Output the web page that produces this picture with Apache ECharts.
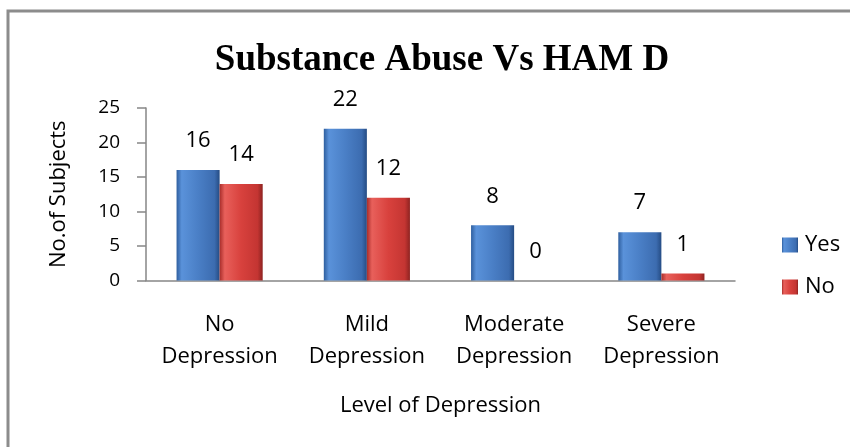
<!DOCTYPE html>
<html>
<head>
<meta charset="utf-8">
<script src="https://cdn.jsdelivr.net/npm/echarts@6/dist/echarts.min.js"></script>
<style>
html,body{margin:0;padding:0;background:#fff;}
#chart{width:850px;height:447px;}
</style>
</head>
<body>
<div id="chart"></div>
<script>
const categories = ['No\nDepression', 'Mild\nDepression', 'Moderate\nDepression', 'Severe\nDepression'];
const yesValues = [16, 22, 8, 7];
const noValues = [14, 12, 0, 1];
const seriesNames = ['Yes', 'No'];
const titleText = 'Substance Abuse Vs HAM D';
const xAxisTitle = 'Level of Depression';
const yAxisTitle = 'No.of Subjects';

const FONT = '"Open Sans", "Noto Sans", sans-serif';

const blueGrad = new echarts.graphic.LinearGradient(0, 0, 1, 0, [
  {offset: 0, color: '#2f5f9f'},
  {offset: 0.12, color: '#5a92da'},
  {offset: 0.5, color: '#4a7fc6'},
  {offset: 0.88, color: '#3c6cb0'},
  {offset: 1, color: '#254c84'}
]);
const redGrad = new echarts.graphic.LinearGradient(0, 0, 1, 0, [
  {offset: 0, color: '#a82d2a'},
  {offset: 0.12, color: '#e8605b'},
  {offset: 0.5, color: '#d8413d'},
  {offset: 0.88, color: '#c43532'},
  {offset: 1, color: '#8e2321'}
]);

const chart = echarts.init(document.getElementById('chart'), null, {renderer: 'canvas'});
const labelCfg = {
  show: true, position: 'top', distance: 18,
  color: '#000', fontFamily: FONT, fontSize: 22
};
chart.setOption({
  animation: false,
  backgroundColor: '#fff',
  graphic: [{
    type: 'rect', shape: {x: 8, y: 11, width: 900, height: 500},
    style: {fill: 'none', stroke: '#8c8c8c', lineWidth: 3}, silent: true, z: -1
  }],
  title: {
    text: titleText, left: 437, top: 37, textAlign: 'center',
    textStyle: {fontFamily: '"Liberation Serif", "Times New Roman", serif', fontWeight: 'bold', fontSize: 37, color: '#000'}
  },
  legend: {
    orient: 'vertical', left: 777, top: 229, itemWidth: 16, itemHeight: 15, itemGap: 20,
    icon: 'rect',
    textStyle: {fontFamily: FONT, fontSize: 22, color: '#000', padding: [0,0,0,2]},
    data: seriesNames
  },
  grid: {left: 146, right: 115, top: 108, bottom: 166.5},
  xAxis: {
    type: 'category', data: categories,
    name: xAxisTitle, nameLocation: 'middle', nameGap: 114,
    nameTextStyle: {fontFamily: FONT, fontSize: 22, color: '#000'},
    axisLine: {lineStyle: {color: '#868686', width: 1.5}},
    axisTick: {show: false},
    axisLabel: {fontFamily: FONT, fontSize: 22, color: '#000', margin: 28, lineHeight: 32, interval: 0}
  },
  yAxis: {
    type: 'value', min: 0, max: 25, interval: 5,
    name: yAxisTitle, nameLocation: 'middle', nameGap: 76,
    nameTextStyle: {fontFamily: FONT, fontSize: 22, color: '#000'},
    splitLine: {show: false},
    axisLine: {show: true, lineStyle: {color: '#868686', width: 1.5}},
    axisTick: {show: true, length: 9, lineStyle: {color: '#868686', width: 1.5}},
    axisLabel: {fontFamily: FONT, fontSize: 19, color: '#000', margin: 26}
  },
  series: [
    {name: seriesNames[0], type: 'bar', data: yesValues, barGap: '0%', barCategoryGap: '41.5%',
     itemStyle: {color: blueGrad}, label: labelCfg},
    {name: seriesNames[1], type: 'bar', data: noValues,
     itemStyle: {color: redGrad}, label: labelCfg}
  ]
});
</script>
</body>
</html>
